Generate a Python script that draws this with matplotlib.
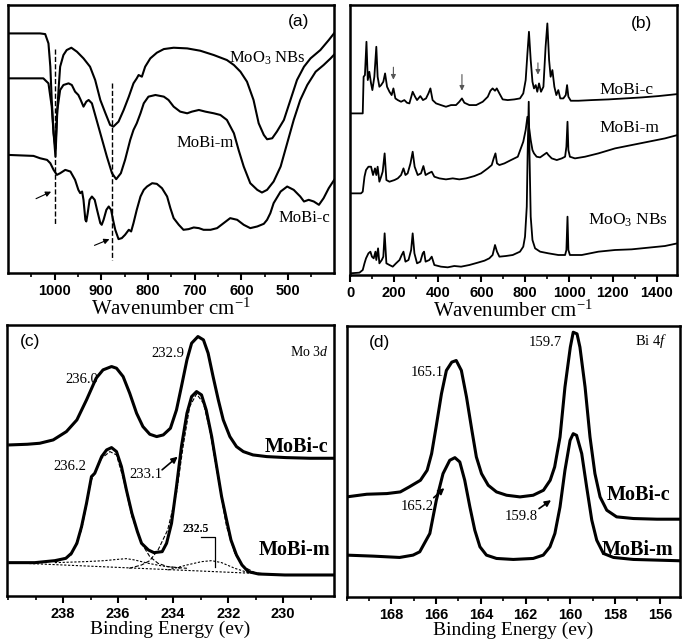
import matplotlib
matplotlib.use('Agg')
import matplotlib.pyplot as plt
from matplotlib.ticker import MultipleLocator

plt.rcParams['mathtext.fontset'] = 'custom'
plt.rcParams['mathtext.rm'] = 'Liberation Serif'
plt.rcParams['mathtext.it'] = 'Liberation Serif:italic'
plt.rcParams['mathtext.bf'] = 'Liberation Serif:bold'
SERIF = 'Liberation Serif'
SANS = 'Liberation Sans'

# ---------------- (a) FTIR ----------------
ir_ticks = [1000, 900, 800, 700, 600, 500]
ir_moo3_x = [1100, 1031, 1020, 1013, 1009, 1006, 1002, 998, 995, 991, 988, 981, 974, 964, 952, 938,
             924, 913, 902, 891, 881, 874, 863, 852, 841, 831, 824, 820, 813, 806, 795, 781, 766,
             745, 716, 688, 659, 631, 616, 602, 588, 574, 563, 552, 545, 534, 524, 509, 495, 481,
             466, 452, 431, 413, 399]
ir_moo3_y = [720, 720, 718, 690, 620, 520, 420, 375, 470, 560, 620, 655, 670, 677, 665, 645,
             620, 580, 520, 480, 445, 440, 455, 490, 530, 570, 585, 595, 590, 620, 645, 662, 673,
             677, 675, 668, 655, 640, 625, 605, 575, 520, 450, 415, 402, 405, 425, 460, 520, 580,
             620, 645, 670, 700, 725]
ir_mobim_x = [1100, 1024, 1013, 1006, 1002, 998, 994, 988, 981, 970, 963, 956, 949, 944, 938, 932,
              927, 920, 913, 902, 888, 877, 868, 858, 849, 838, 831, 824, 816, 809, 799, 784, 766,
              756, 745, 731, 716, 706, 691, 677, 659, 645, 631, 616, 606, 595, 581, 566, 556, 545,
              531, 516, 502, 488, 474, 459, 441, 424, 409, 399]
ir_mobim_y = [585, 585, 570, 500, 420, 350, 490, 550, 565, 570, 565, 545, 535, 520, 500, 515,
              520, 510, 475, 420, 350, 300, 282, 300, 340, 400, 430, 450, 480, 510, 530, 535, 530,
              520, 500, 485, 480, 485, 490, 485, 480, 475, 460, 420, 370, 320, 270, 250, 242, 250,
              275, 320, 390, 460, 520, 565, 605, 625, 645, 660]
ir_mobic_x = [1100, 1045, 1031, 1016, 1009, 1002, 995, 988, 977, 966, 956, 949, 945, 941, 938, 934,
              932, 929, 925, 920, 914, 909, 902, 899, 895, 889, 884, 879, 874, 870, 863, 856, 849,
              841, 836, 831, 824, 816, 809, 802, 791, 781, 770, 759, 752, 745, 734, 724, 713, 702,
              691, 681, 666, 652, 638, 624, 609, 595, 581, 566, 552, 545, 538, 531, 516, 502, 488,
              474, 466, 456, 445, 434, 424, 413, 399]
ir_mobic_y = [355, 352, 345, 340, 330, 310, 295, 300, 310, 305, 280, 250, 240, 245, 220, 160,
              155, 180, 220, 230, 220, 190, 150, 145, 160, 190, 200, 190, 155, 130, 102, 105, 115,
              130, 125, 150, 190, 230, 250, 260, 270, 268, 255, 230, 195, 165, 145, 130, 132, 137,
              135, 130, 130, 135, 150, 165, 160, 145, 135, 140, 148, 160, 180, 210, 245, 260, 250,
              230, 215, 220, 215, 205, 225, 255, 285]
ir_guides = [998, 876]

# ---------------- (b) Raman ----------------
ra_ticks = [0, 200, 400, 600, 800, 1000, 1200, 1400]
ra_mobic_x = [0, 58, 62, 68, 75, 81, 88, 96, 102, 111, 120, 126, 134, 142, 152, 160, 169, 180, 190,
              198, 207, 218, 233, 248, 260, 271, 286, 297, 306, 321, 333, 347, 358, 367, 377, 393,
              415, 438, 461, 484, 499, 511, 522, 545, 576, 606, 629, 641, 651, 662, 670, 682, 697,
              720, 750, 776, 791, 802, 810, 817, 825, 833, 840, 848, 855, 863, 872, 883, 893, 901,
              909, 916, 924, 933, 942, 951, 960, 974, 985, 991, 997, 1008, 1043, 1104, 1180, 1256,
              1332, 1408, 1495]
ra_mobic_y = [485, 485, 595, 600, 700, 585, 610, 575, 555, 595, 685, 595, 565, 570, 580, 605, 565,
              550, 540, 560, 530, 525, 520, 525, 517, 515, 550, 535, 525, 537, 525, 530, 545, 560,
              525, 515, 510, 505, 510, 510, 520, 530, 517, 510, 510, 520, 535, 553, 560, 553, 560,
              545, 527, 525, 527, 530, 545, 585, 665, 730, 645, 580, 560, 570, 550, 575, 550, 565,
              685, 755, 645, 595, 615, 565, 540, 555, 530, 530, 540, 570, 535, 523, 523, 525, 527,
              530, 533, 537, 543]
ra_mobim_x = [0, 50, 58, 66, 73, 84, 96, 105, 114, 120, 126, 134, 142, 149, 158, 166, 180, 203, 218,
              233, 244, 253, 263, 276, 286, 295, 309, 324, 335, 345, 358, 373, 385, 408, 438, 469,
              499, 530, 568, 598, 629, 647, 656, 664, 671, 682, 705, 735, 766, 791, 802, 810, 817,
              825, 833, 840, 852, 868, 883, 898, 906, 921, 944, 967, 982, 988, 993, 997, 1004, 1027,
              1073, 1134, 1210, 1286, 1362, 1438, 1495]
ra_mobim_y = [245, 245, 250, 295, 315, 325, 325, 300, 320, 300, 325, 280, 295, 310, 365, 285, 280,
              285, 290, 300, 320, 300, 305, 335, 370, 325, 300, 305, 327, 300, 305, 310, 295, 290,
              287, 290, 287, 290, 297, 305, 320, 330, 350, 365, 335, 330, 335, 345, 355, 400, 435,
              475, 445, 405, 375, 365, 355, 353, 360, 367, 360, 350, 345, 350, 355, 385, 460, 375,
              355, 350, 355, 365, 380, 390, 400, 410, 420]
ra_moo3_x = [0, 43, 58, 66, 73, 84, 93, 100, 108, 116, 120, 128, 134, 145, 152, 158, 166, 180, 195,
             210, 226, 236, 244, 253, 267, 279, 286, 294, 306, 321, 332, 338, 345, 362, 373, 385,
             415, 446, 476, 507, 545, 583, 614, 636, 651, 662, 671, 682, 712, 743, 776, 791, 799,
             807, 811, 816, 820, 825, 833, 845, 868, 906, 951, 982, 988, 993, 997, 1004, 1058,
             1134, 1210, 1286, 1362, 1438, 1495]
ra_moo3_y = [5, 7, 15, 35, 50, 65, 70, 55, 50, 70, 45, 80, 35, 45, 55, 125, 35, 30, 25, 35, 45,
             60, 70, 40, 45, 75, 125, 65, 35, 40, 65, 70, 40, 45, 55, 30, 25, 23, 27, 25, 30, 37,
             43, 50, 60, 90, 70, 55, 57, 60, 70, 85, 115, 205, 365, 520, 345, 175, 105, 80, 70, 65,
             60, 60, 75, 175, 75, 60, 60, 70, 75, 77, 82, 87, 95]
ra_arrows = [(198, 632, 578), (511, 610, 545), (858, 645, 593)]

# ---------------- (c) XPS Mo 3d ----------------
mo_ticks = [238, 236, 234, 232, 230]
mo_c_x = [239.94, 239.3, 238.85, 238.36, 237.88, 237.5, 237.15, 236.8, 236.55, 236.24, 236.06,
          235.82, 235.58, 235.33, 235.1, 234.85, 234.6, 234.36, 234.1, 233.88, 233.7, 233.5,
          233.33, 233.1, 232.9, 232.73, 232.55, 232.36, 232.18, 231.94, 231.7, 231.45, 231.1,
          230.6, 229.9, 229.03, 228.1]
mo_c_y = [453, 455, 458, 468, 493, 528, 588, 653, 678, 688, 683, 658, 608, 548, 508, 485, 478,
          483, 503, 558, 628, 708, 758, 778, 768, 728, 658, 588, 528, 478, 448, 433, 423, 418, 415,
          413, 413]
mo_m_x = [239.94, 239.03, 238.3, 237.9, 237.7, 237.5, 237.33, 237.15, 236.97, 236.85, 236.6,
          236.42, 236.24, 236.06, 235.88, 235.7, 235.5, 235.3, 235.15, 234.9, 234.7, 234.4, 234.24,
          234.06, 233.88, 233.7, 233.5, 233.33, 233.15, 232.97, 232.8, 232.6, 232.42, 232.24,
          232.06, 231.9, 231.7, 231.5, 231.27, 230.9, 229.94, 228.1]
mo_m_y = [100, 100, 106, 113, 128, 158, 208, 278, 358, 368, 418, 438, 445, 433, 388, 318, 248,
          193, 158, 138, 130, 133, 158, 218, 328, 448, 548, 598, 613, 603, 558, 478, 388, 298, 228,
          168, 123, 93, 73, 66, 63, 63]
mo_fit1_x = [238.3, 237.7, 237.33, 236.97, 236.6, 236.3, 236.06, 235.8, 235.5, 235.15, 234.85,
             234.55, 234.2, 233.5]
mo_fit1_y = [101, 123, 198, 348, 413, 433, 423, 348, 238, 158, 118, 98, 88, 83]
mo_fit2_x = [235.6, 235.15, 234.85, 234.55, 234.2, 233.88, 233.64, 233.4, 233.15, 232.9, 232.67,
             232.36, 232.06, 231.76, 231.45, 231.03, 230.55]
mo_fit2_y = [83, 93, 106, 138, 198, 308, 448, 568, 606, 578, 498, 348, 208, 128, 88, 70, 65]
mo_fit3_x = [238.3, 237.2, 236.5, 236.0, 235.7, 235.4, 234.9, 234.4, 233.7]
mo_fit3_y = [100, 103, 106, 110, 112, 108, 98, 90, 83]
mo_fit4_x = [234.2, 233.5, 232.97, 232.6, 232.24, 231.76, 231.27]
mo_fit4_y = [78, 93, 103, 106, 100, 83, 70]
mo_base_x = [239.94, 231.1]
mo_base_y = [100, 68]

# ---------------- (d) XPS Bi 4f ----------------
bi_ticks = [168, 166, 164, 162, 160, 158, 156]
bi_c_x = [170.0, 169.1, 168.2, 167.6, 167.2, 166.7, 166.4, 166.2, 166.0, 165.76, 165.54, 165.3,
          165.1, 164.87, 164.64, 164.4, 164.2, 163.97, 163.67, 163.3, 162.85, 162.25, 161.66,
          161.2, 160.9, 160.7, 160.46, 160.24, 160.0, 159.87, 159.7, 159.57, 159.34, 159.12,
          158.9, 158.67, 158.37, 157.93, 157.18, 156.13, 155.1]
bi_c_y = [300, 308, 310, 315, 330, 350, 380, 430, 510, 610, 680, 705, 710, 680, 600, 500, 420,
          370, 335, 315, 305, 300, 305, 320, 350, 390, 480, 630, 750, 795, 790, 750, 630, 480,
          370, 300, 260, 240, 235, 233, 233]
bi_m_x = [170.01, 168.82, 167.63, 167.03, 166.73, 166.28, 165.99, 165.69, 165.39, 165.16, 164.94,
          164.72, 164.49, 164.27, 164.04, 163.75, 163.3, 162.55, 161.66, 161.21, 160.91, 160.69,
          160.46, 160.24, 160.01, 159.87, 159.72, 159.49, 159.27, 159.04, 158.82, 158.52, 158.07,
          157.18, 155.09]
bi_m_y = [125, 122, 118, 125, 135, 190, 290, 370, 410, 418, 405, 350, 270, 200, 150, 125, 115,
          112, 115, 125, 150, 190, 270, 380, 470, 490, 485, 430, 330, 230, 170, 130, 118, 112, 108]


def style_axis(ax, ticks, minor, xlim, ylim):
    ax.set_xlim(xlim)
    ax.set_ylim(ylim)
    ax.set_xticks(ticks)
    ax.xaxis.set_minor_locator(MultipleLocator(minor))
    ax.set_yticks([])
    ax.tick_params(axis='x', which='major', direction='out', length=5, width=1.5, pad=3,
                   labelsize=10.5, top=False)
    ax.tick_params(axis='x', which='minor', direction='out', length=3, width=1.2, top=False)
    for lab in ax.get_xticklabels():
        lab.set_fontfamily(SANS)
        lab.set_fontweight('bold')
    for sp in ax.spines.values():
        sp.set_linewidth(1.8)


fig = plt.figure(figsize=(6.85, 6.41), dpi=100)

# (a)
ax = fig.add_axes([0.0121, 0.574, 0.476, 0.418])
for xs, ys in [(ir_moo3_x, ir_moo3_y), (ir_mobim_x, ir_mobim_y), (ir_mobic_x, ir_mobic_y)]:
    ax.plot(xs, ys, color='black', lw=1.5)
ax.plot([ir_guides[0]] * 2, [672, 148], ls='--', color='black', lw=1)
ax.plot([ir_guides[1]] * 2, [570, 40], ls='--', color='black', lw=1)
ax.annotate('', xy=(1002, 248), xytext=(1045, 220),
            arrowprops=dict(arrowstyle='-|>', color='black', lw=0.8, mutation_scale=8))
ax.annotate('', xy=(877, 105), xytext=(920, 80),
            arrowprops=dict(arrowstyle='-|>', color='black', lw=0.8, mutation_scale=8))
ax.text(477, 755, '(a)', family=SANS, fontsize=12.5, ha='center', va='center')
ax.text(627, 645, 'MoO$_3$ NBs', family=SERIF, fontsize=12, ha='left', va='center')
ax.text(738, 390, 'MoBi-m', family=SERIF, fontsize=12, ha='left', va='center')
ax.text(520, 165, 'MoBi-c', family=SERIF, fontsize=12, ha='left', va='center')
style_axis(ax, ir_ticks, 50, (1099, 401), (0, 805))
ax.set_xlabel('Wavenumber cm$^{-1}$', family=SERIF, fontsize=15, labelpad=0)

# (b)
ax = fig.add_axes([0.511, 0.571, 0.477, 0.421])
for xs, ys in [(ra_mobic_x, ra_mobic_y), (ra_mobim_x, ra_mobim_y), (ra_moo3_x, ra_moo3_y)]:
    ax.plot(xs, ys, color='black', lw=1.3)
for xa, y0, y1 in ra_arrows:
    ax.annotate('', xy=(xa, y1), xytext=(xa, y0),
                arrowprops=dict(arrowstyle='-|>', color='#555555', lw=0.8, mutation_scale=7))
ax.text(1332, 755, '(b)', family=SANS, fontsize=12.5, ha='center', va='center')
ax.text(1141, 555, 'MoBi-c', family=SERIF, fontsize=12.5, ha='left', va='center')
ax.text(1141, 440, 'MoBi-m', family=SERIF, fontsize=12.5, ha='left', va='center')
ax.text(1088, 165, 'MoO$_3$ NBs', family=SERIF, fontsize=12.5, ha='left', va='center')
style_axis(ax, ra_ticks, 100, (0, 1492), (0, 810))
ax.set_xlabel('Wavenumber cm$^{-1}$', family=SERIF, fontsize=15, labelpad=0)

# (c)
ax = fig.add_axes([0.0098, 0.0702, 0.478, 0.423])
ax.plot(mo_c_x, mo_c_y, color='black', lw=2.2)
ax.plot(mo_m_x, mo_m_y, color='black', lw=2.2)
for xs, ys in [(mo_fit1_x, mo_fit1_y), (mo_fit2_x, mo_fit2_y)]:
    ax.plot(xs, ys, color='black', lw=0.8, ls='--')
for xs, ys in [(mo_fit3_x, mo_fit3_y), (mo_fit4_x, mo_fit4_y), (mo_base_x, mo_base_y)]:
    ax.plot(xs, ys, color='black', lw=0.8, ls=(0, (2, 1.5)))
ax.plot([233.0, 232.48, 232.48], [178, 178, 86], color='black', lw=0.9)
ax.text(233.2, 200, '232.5', family=SERIF, fontsize=8.5, fontweight='bold', ha='center', va='center')
ax.text(239.2, 763, '(c)', family=SANS, fontsize=12.5, ha='center', va='center')
ax.text(237.33, 648, '236.0', family=SERIF, fontsize=10.5, ha='center', va='center')
ax.text(234.18, 728, '232.9', family=SERIF, fontsize=10.5, ha='center', va='center')
ax.text(229.05, 733, 'Mo 3$\\mathit{d}$', family=SERIF, fontsize=10, ha='center', va='center')
ax.text(229.5, 448, 'MoBi-c', family=SERIF, fontsize=14.5, fontweight='bold', ha='center', va='center')
ax.text(237.76, 388, '236.2', family=SERIF, fontsize=10.5, ha='center', va='center')
ax.text(235.0, 363, '233.1', family=SERIF, fontsize=10.5, ha='center', va='center')
ax.text(229.58, 138, 'MoBi-m', family=SERIF, fontsize=14.5, fontweight='bold', ha='center', va='center')
ax.annotate('', xy=(233.76, 423), xytext=(234.48, 373),
            arrowprops=dict(arrowstyle='-|>', color='black', lw=1.2, mutation_scale=9))
style_axis(ax, mo_ticks, 1, (240.05, 228.15), (0, 813))
ax.set_xlabel('Binding Energy (ev)', family=SERIF, fontsize=14, labelpad=0)

# (d)
ax = fig.add_axes([0.506, 0.0691, 0.4866, 0.423])
ax.plot(bi_c_x, bi_c_y, color='black', lw=2.2)
ax.plot(bi_m_x, bi_m_y, color='black', lw=2.2)
ax.text(168.55, 765, '(d)', family=SANS, fontsize=12.5, ha='center', va='center')
ax.text(166.4, 675, '165.1', family=SERIF, fontsize=10.5, ha='center', va='center')
ax.text(161.13, 765, '159.7', family=SERIF, fontsize=10.5, ha='center', va='center')
ax.text(156.4, 770, 'Bi 4$\\mathit{f}$', family=SERIF, fontsize=10.5, ha='center', va='center')
ax.text(166.85, 270, '165.2', family=SERIF, fontsize=10.5, ha='center', va='center')
ax.text(162.18, 240, '159.8', family=SERIF, fontsize=10.5, ha='center', va='center')
ax.text(156.93, 305, 'MoBi-c', family=SERIF, fontsize=14.5, fontweight='bold', ha='center', va='center')
ax.text(157.0, 140, 'MoBi-m', family=SERIF, fontsize=14.5, fontweight='bold', ha='center', va='center')
ax.annotate('', xy=(165.54, 332), xytext=(166.2, 292),
            arrowprops=dict(arrowstyle='-|>', color='black', lw=1.2, mutation_scale=9))
ax.annotate('', xy=(160.76, 295), xytext=(161.5, 260),
            arrowprops=dict(arrowstyle='-|>', color='black', lw=1.2, mutation_scale=9))
style_axis(ax, bi_ticks, 1, (170.0, 155.1), (0, 815))
ax.set_xlabel('Binding Energy (ev)', family=SERIF, fontsize=14, labelpad=0)

fig.savefig('out.png', dpi=100)
